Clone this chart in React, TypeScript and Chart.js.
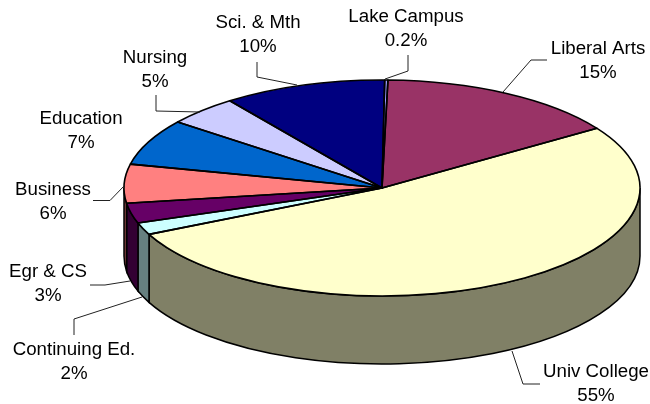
import { useEffect, useRef } from "react";
import { Chart, registerables } from "chart.js";

Chart.register(...registerables);

const categories = ["Lake Campus", "Liberal Arts", "Univ College", "Continuing Ed.", "Egr & CS", "Business", "Education", "Nursing", "Sci. & Mth"];
const values = [0.2, 15.3, 52.2, 1.8, 3, 5.8, 6.9, 4.5, 10.2];
const percentLabels = ["0.2%", "15%", "55%", "2%", "3%", "6%", "7%", "5%", "10%"];
const topColors = ["#9999FF", "#993366", "#FFFFCC", "#CCFFFF", "#660066", "#FF8080", "#0066CC", "#CCCCFF", "#000080"];
const wallColors = ["#4D4D80", "#4D1A33", "#808066", "#668080", "#330033", "#804040", "#003366", "#666680", "#000040"];
const labelCenters: [number, number][] = [[406, 17], [598, 49], [596, 372], [74, 350], [48, 272], [53, 190], [81, 119], [155, 58], [258, 23]];
const leaders: [number, number][][] = [
  [[408, 55], [408, 71], [385, 79]],
  [[547, 60], [531, 60], [503, 92]],
  [[540, 384], [523, 384], [512, 351]],
  [[74, 335], [74, 319], [142, 297]],
  [[90, 285], [105, 285], [130, 281]],
  [[93, 200.5], [110, 200.5], [124, 186]],
  [],
  [[156, 95], [156, 111], [200, 112]],
  [[257, 62], [257, 77], [297, 85]],
];

const CX = 382, CY = 188, RX = 258, RY = 108, DEPTH = 68;

const pie3d = {
  id: "pie3d",
  beforeDatasetsDraw(chart: any) {
    const ctx = chart.ctx;
    const arcs = chart.getDatasetMeta(0).data;
    const two = Math.PI * 2;
    ctx.save();
    ctx.lineWidth = 1.5;
    ctx.strokeStyle = "#000";
    arcs.forEach((arc: any, i: number) => {
      const k = Math.floor(arc.startAngle / two);
      const s = arc.startAngle - k * two;
      const e = arc.endAngle - k * two;
      [0, two].forEach((off) => {
        const from = Math.max(s, off);
        const to = Math.min(e, off + Math.PI);
        if (to <= from) return;
        ctx.beginPath();
        ctx.ellipse(CX, CY, RX, RY, 0, from, to);
        ctx.ellipse(CX, CY + DEPTH, RX, RY, 0, to, from, true);
        ctx.closePath();
        ctx.fillStyle = wallColors[i];
        ctx.fill();
        ctx.stroke();
      });
    });
    ctx.restore();
  },
  beforeDatasetDraw(chart: any) {
    const ctx = chart.ctx;
    const arc = chart.getDatasetMeta(0).data[0];
    const R = arc.outerRadius;
    ctx.save();
    ctx.translate(CX, CY);
    ctx.scale(RX / R, RY / R);
    ctx.translate(-arc.x, -arc.y);
  },
  afterDatasetDraw(chart: any) {
    const ctx = chart.ctx;
    ctx.restore();
    const arcs = chart.getDatasetMeta(0).data;
    ctx.save();
    ctx.lineWidth = 1.6;
    ctx.strokeStyle = "#000";
    ctx.lineJoin = "round";
    arcs.forEach((arc: any) => {
      ctx.beginPath();
      ctx.moveTo(CX, CY);
      ctx.ellipse(CX, CY, RX, RY, 0, arc.startAngle, arc.endAngle);
      ctx.closePath();
      ctx.stroke();
    });
    ctx.restore();
  },
  afterDatasetsDraw(chart: any) {
    const ctx = chart.ctx;
    ctx.save();
    ctx.strokeStyle = "#222";
    ctx.lineWidth = 1;
    leaders.forEach((pts) => {
      ctx.beginPath();
      pts.forEach(([x, y], j) => (j ? ctx.lineTo(x, y) : ctx.moveTo(x, y)));
      ctx.stroke();
    });
    ctx.fillStyle = "#000";
    ctx.font = '18.7px "Liberation Sans"';
    ctx.textAlign = "center";
    ctx.textBaseline = "middle";
    categories.forEach((name, i) => {
      const [x, y] = labelCenters[i];
      ctx.fillText(name, x, y);
      ctx.fillText(percentLabels[i], x, y + 23.5);
    });
    ctx.restore();
  },
};

export default function App() {
  const ref = useRef<HTMLCanvasElement>(null);
  useEffect(() => {
    document.body.style.margin = "0";
    const chart = new Chart(ref.current!, {
      type: "pie",
      data: {
        labels: categories,
        datasets: [{ data: values, backgroundColor: topColors, borderWidth: 0 }],
      },
      options: {
        animation: false,
        responsive: false,
        rotation: 0.6,
        plugins: { legend: { display: false }, tooltip: { enabled: false } },
      },
      plugins: [pie3d],
    });
    return () => chart.destroy();
  }, []);
  return <canvas ref={ref} width={650} height={404} style={{ display: "block" }} />;
}
